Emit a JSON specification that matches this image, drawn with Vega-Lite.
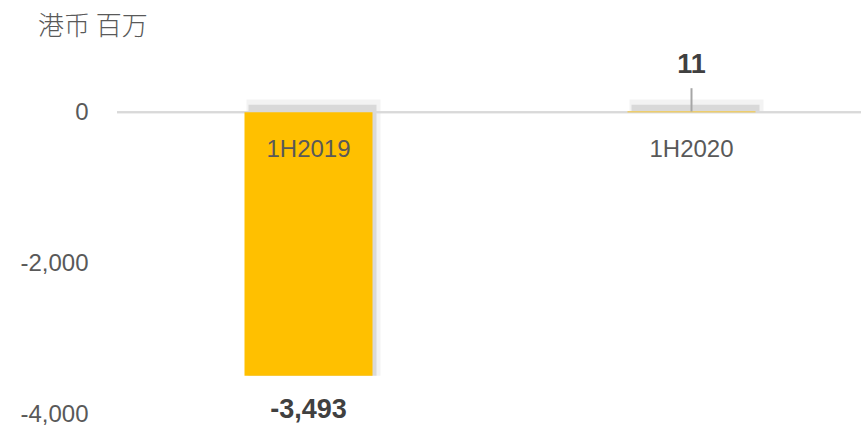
{
  "$schema": "https://vega.github.io/schema/vega-lite/v6.json",
  "width": 766,
  "height": 362,
  "autosize": {"type": "none"},
  "padding": {"left": 117, "top": 52, "right": 0, "bottom": 14},
  "background": "white",
  "config": {"view": {"stroke": null}},
  "title": {
    "text": "港币 百万",
    "anchor": "start",
    "frame": "group",
    "dx": -79,
    "offset": -15,
    "baseline": "bottom",
    "font": "Noto Sans CJK SC",
    "fontSize": 26,
    "fontWeight": 300,
    "color": "#595959"
  },
  "data": {
    "values": [
      {"period": "1H2019", "value": -3493, "label": "-3,493"},
      {"period": "1H2020", "value": 11, "label": "11"}
    ]
  },
  "encoding": {
    "x": {"field": "period", "type": "nominal", "scale": {"paddingInner": 0, "paddingOuter": 0}, "axis": null}
  },
  "layer": [
    {
      "mark": {"type": "bar", "size": 134, "xOffset": 5, "color": "#9a9a9a", "opacity": 0.12},
      "encoding": {
        "y": {"field": "value", "type": "quantitative", "scale": {"domain": [-4000, 800], "nice": false},
          "axis": {"values": [0, -2000, -4000], "labelExpr": "datum.value == 0 ? '0' : '-' + format(abs(datum.value), ',')", "grid": false, "ticks": false, "domain": false, "labelPadding": 29, "labelFont": "Liberation Sans", "labelFontSize": 24, "labelColor": "#595959", "title": null}},
        "y2": {"datum": 170}
      }
    },
    {
      "mark": {"type": "bar", "size": 128, "xOffset": 4, "color": "#7f7f7f", "opacity": 0.22},
      "encoding": {
        "y": {"field": "value", "type": "quantitative"},
        "y2": {"datum": 100}
      }
    },
    {
      "mark": {"type": "rule", "color": "#d9d9d9", "strokeWidth": 2},
      "encoding": {"y": {"datum": 0}, "x": {"value": 0}, "x2": {"value": 766}}
    },
    {
      "mark": {"type": "bar", "size": 128, "color": "#FFC000"},
      "encoding": {
        "y": {"field": "value", "type": "quantitative"},
        "y2": {"datum": 0}
      }
    },
    {
      "mark": {"type": "text", "dy": 38, "baseline": "middle", "font": "Liberation Sans", "fontSize": 24, "color": "#595959"},
      "encoding": {"y": {"datum": 0}, "text": {"field": "period"}}
    },
    {
      "transform": [{"filter": "datum.value < 0"}],
      "mark": {"type": "text", "dy": 34, "baseline": "middle", "font": "Liberation Sans", "fontSize": 27, "fontWeight": "bold", "color": "#404040"},
      "encoding": {"y": {"field": "value", "type": "quantitative"}, "text": {"field": "label"}}
    },
    {
      "transform": [{"filter": "datum.value > 0"}],
      "mark": {"type": "rule", "color": "#a6a6a6", "strokeWidth": 2},
      "encoding": {"y": {"field": "value", "type": "quantitative"}, "y2": {"datum": 320}}
    },
    {
      "transform": [{"filter": "datum.value > 0"}],
      "mark": {"type": "text", "dy": -47, "baseline": "middle", "font": "Liberation Sans", "fontSize": 27, "fontWeight": "bold", "color": "#404040"},
      "encoding": {"y": {"field": "value", "type": "quantitative"}, "text": {"field": "label"}}
    }
  ]
}
